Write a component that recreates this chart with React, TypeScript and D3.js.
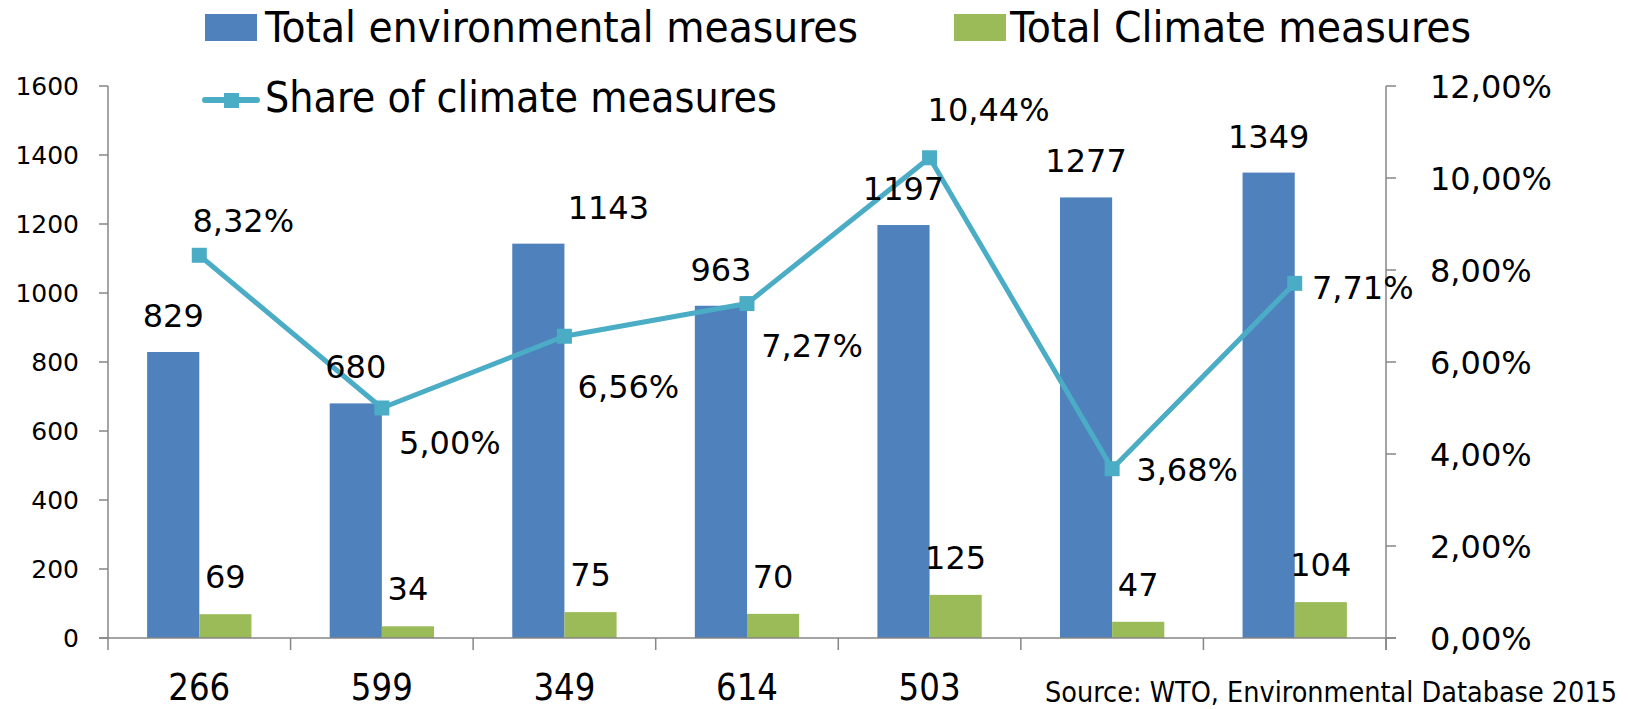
import React from "react";
import * as d3 from "d3";

const categories = ["266", "599", "349", "614", "503", "", ""];
const totalEnv = [829, 680, 1143, 963, 1197, 1277, 1349];
const totalClimate = [69, 34, 75, 70, 125, 47, 104];
const share = [8.32, 5.0, 6.56, 7.27, 10.44, 3.68, 7.71];
const leftTicks = [0, 200, 400, 600, 800, 1000, 1200, 1400, 1600];
const rightTicks = [0, 2, 4, 6, 8, 10, 12];

// label placement tweaks (layout only)
const envLabelDx = [0, 0, 70, 0, 0, 0, 0];
const shareLabelOffset: [number, number][] = [
  [44, -35],
  [68, 34],
  [64, 50],
  [65, 42],
  [59, -48],
  [75, 1],
  [68, 4],
];

const W = 1629;
const H = 709;
const M = { left: 108, right: 1386, top: 86, bottom: 638 };

const BLUE = "#4F81BD";
const GREEN = "#9BBB59";
const LINE = "#4BACC6";
const AXIS = "#868686";

const NUM_FONT = "'DejaVu Sans', Verdana, sans-serif";
const NARROW_FONT = "'Liberation Sans Narrow', 'DejaVu Sans Condensed', 'Liberation Sans', Arial, sans-serif";

const fmtPct = (v: number) => v.toFixed(2).replace(".", ",") + "%";

export default function App() {
  const idx = categories.map((_, i) => i);
  const x0 = d3.scaleBand<number>().domain(idx).range([M.left, M.right]).padding(0);
  const x1 = d3
    .scaleBand<string>()
    .domain(["env", "clim"])
    .range([0, x0.bandwidth()])
    .paddingInner(0)
    .paddingOuter(0.75);
  const yL = d3.scaleLinear().domain([0, 1600]).range([M.bottom, M.top]);
  const yR = d3.scaleLinear().domain([0, 12]).range([M.bottom, M.top]);
  const bw = x1.bandwidth();
  const cx = (i: number) => (x0(i) as number) + x0.bandwidth() / 2;

  const line = d3
    .line<number>()
    .x((_, i) => cx(i))
    .y((d) => yR(d));

  const boundaries = d3.range(categories.length + 1).map((i) => M.left + i * x0.step());

  return (
    <svg
      width={W}
      height={H}
      style={{ position: "absolute", left: 0, top: 0, background: "#fff" }}
      xmlns="http://www.w3.org/2000/svg"
    >
      <rect x={0} y={0} width={W} height={H} fill="#fff" />
      {/* bars */}
      {idx.map((i) => (
        <g key={"b" + i}>
          <rect
            x={(x0(i) as number) + (x1("env") as number)}
            y={yL(totalEnv[i])}
            width={bw}
            height={M.bottom - yL(totalEnv[i])}
            fill={BLUE}
          />
          <rect
            x={(x0(i) as number) + (x1("clim") as number)}
            y={yL(totalClimate[i])}
            width={bw}
            height={M.bottom - yL(totalClimate[i])}
            fill={GREEN}
          />
        </g>
      ))}

      {/* axes */}
      <g stroke={AXIS} strokeWidth={1.5} fill="none">
        <line x1={M.left} y1={M.top} x2={M.left} y2={M.bottom} />
        <line x1={M.right} y1={M.top} x2={M.right} y2={M.bottom + 12} />
        <line x1={M.left - 9} y1={M.bottom} x2={M.right + 10} y2={M.bottom} />
        {leftTicks.map((t) => (
          <line key={"lt" + t} x1={M.left - 9} x2={M.left} y1={yL(t)} y2={yL(t)} />
        ))}
        {rightTicks.map((t) => (
          <line key={"rt" + t} x1={M.right} x2={M.right + 10} y1={yR(t)} y2={yR(t)} />
        ))}
        {boundaries.map((bx, i) => (
          <line key={"xt" + i} x1={bx} x2={bx} y1={M.bottom} y2={M.bottom + 12} />
        ))}
      </g>

      {/* left tick labels */}
      {leftTicks.map((t) => (
        <text
          key={"ll" + t}
          x={79}
          y={yL(t)}
          dy="0.36em"
          textAnchor="end"
          fontFamily={NUM_FONT}
          fontSize={25}
          fill="#000"
        >
          {t}
        </text>
      ))}
      {/* right tick labels */}
      {rightTicks.map((t) => (
        <text
          key={"rl" + t}
          x={1430}
          y={yR(t)}
          dy="0.36em"
          textAnchor="start"
          fontFamily={NUM_FONT}
          fontSize={32}
          fill="#000"
        >
          {fmtPct(t)}
        </text>
      ))}

      {/* line */}
      <path d={line(share) || ""} fill="none" stroke={LINE} strokeWidth={5} strokeLinejoin="round" />
      {share.map((v, i) => (
        <rect key={"m" + i} x={cx(i) - 7.5} y={yR(v) - 7.5} width={15} height={15} fill={LINE} />
      ))}

      {/* bar labels */}
      {idx.map((i) => (
        <g key={"bl" + i} fontFamily={NUM_FONT} fontSize={32} fill="#000" textAnchor="middle">
          <text
            x={(x0(i) as number) + (x1("env") as number) + bw / 2 + envLabelDx[i]}
            y={yL(totalEnv[i]) - 25}
          >
            {totalEnv[i]}
          </text>
          <text x={(x0(i) as number) + (x1("clim") as number) + bw / 2} y={yL(totalClimate[i]) - 26}>
            {totalClimate[i]}
          </text>
        </g>
      ))}

      {/* share labels */}
      {share.map((v, i) => (
        <text
          key={"sl" + i}
          x={cx(i) + shareLabelOffset[i][0]}
          y={yR(v) + shareLabelOffset[i][1]}
          dy="0.36em"
          textAnchor="middle"
          fontFamily={NUM_FONT}
          fontSize={32}
          fill="#000"
        >
          {fmtPct(v)}
        </text>
      ))}

      {/* category labels */}
      {categories.map((c, i) =>
        c ? (
          <text
            key={"c" + i}
            x={cx(i)}
            y={700}
            textAnchor="middle"
            fontFamily={NARROW_FONT}
            fontSize={37}
            textLength={62}
            lengthAdjust="spacingAndGlyphs"
            fill="#000"
          >
            {c}
          </text>
        ) : null
      )}

      {/* source */}
      <text
        x={1045}
        y={702}
        fontFamily={NARROW_FONT}
        fontSize={28}
        textLength={572}
        lengthAdjust="spacingAndGlyphs"
        fill="#000"
      >
        Source: WTO, Environmental Database 2015
      </text>

      {/* legend */}
      <rect x={205} y={14} width={52} height={27} fill={BLUE} />
      <text
        x={265}
        y={42}
        fontFamily={NARROW_FONT}
        fontSize={42}
        textLength={593}
        lengthAdjust="spacingAndGlyphs"
        fill="#000"
      >
        Total environmental measures
      </text>
      <rect x={954} y={14} width={52} height={27} fill={GREEN} />
      <text
        x={1010}
        y={42}
        fontFamily={NARROW_FONT}
        fontSize={42}
        textLength={461}
        lengthAdjust="spacingAndGlyphs"
        fill="#000"
      >
        Total Climate measures
      </text>
      <line x1={205} y1={100} x2={257} y2={100} stroke={LINE} strokeWidth={6} strokeLinecap="round" />
      <rect x={224} y={93} width={15} height={15} fill={LINE} />
      <text
        x={265}
        y={112}
        fontFamily={NARROW_FONT}
        fontSize={42}
        textLength={512}
        lengthAdjust="spacingAndGlyphs"
        fill="#000"
      >
        Share of climate measures
      </text>
    </svg>
  );
}
